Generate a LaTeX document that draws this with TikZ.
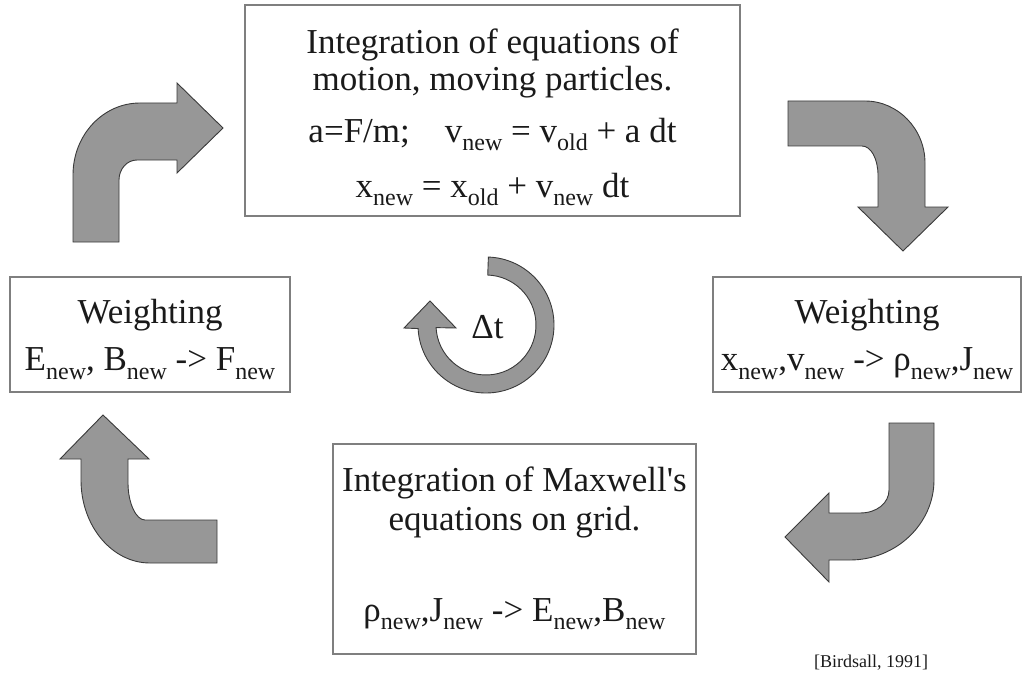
\documentclass[tikz,border=0pt]{standalone}
\usepackage{fontspec}
\setmainfont{Liberation Serif}
\usetikzlibrary{positioning,calc}
\definecolor{BoxLine}{HTML}{7F7F7F}
\definecolor{ArrowFill}{HTML}{979797}
\definecolor{ArrowLine}{HTML}{3A3A3A}
\definecolor{TextInk}{HTML}{1A1A1A}
\lineskiplimit=-100pt
\newcommand{\lo}[1]{\raisebox{-0.24em}{\fontsize{24}{24}\selectfont #1}}
\tikzset{
  % text boxes
  stagebox/.style={rectangle,draw=BoxLine,line width=1.5pt,fill=white,inner sep=0pt},
  % text inside the boxes
  stagetext/.style={align=center,text=TextInk,inner sep=0pt,anchor=north},
  % block arrows
  blockarrow/.style={fill=ArrowFill,draw=ArrowLine,line width=0.9pt,line join=miter},
  % citation
  cite/.style={font=\fontsize{18}{18}\selectfont,text=TextInk,anchor=base}
}

\begin{document}
\begin{tikzpicture}[x=1pt,y=1pt]
  \useasboundingbox (0,0) rectangle (1025,-674);

  % --- stages ---
  \node[stagebox,minimum width=495pt,minimum height=211pt] (motion)  at (492.5,-110.5) {};
  \node[stagebox,minimum width=280pt,minimum height=115pt] (wforce)  at (150,-334.5) {};
  \node[stagebox,minimum width=308pt,minimum height=115pt] (wcharge) at (867,-334.5) {};
  \node[stagebox,minimum width=363pt,minimum height=210pt] (maxwell) at (514.5,-549) {};

  \node[stagetext,font=\fontsize{35}{37}\selectfont] (motiontext) at ([yshift=-24pt]motion.north)
       {Integration of equations of\\ motion, moving particles.\\[15pt]
        a=F/m;\hspace{1em}v\lo{new} = v\lo{old} + a dt\\[18pt]
        x\lo{new} = x\lo{old} + v\lo{new} dt};
  \node[stagetext,font=\fontsize{35}{47}\selectfont] (wforcetext) at ([yshift=-23pt]wforce.north)
       {Weighting\\ E\lo{new}, B\lo{new} -> F\lo{new}};
  \node[stagetext,font=\fontsize{35}{47}\selectfont] (wchargetext) at ([yshift=-23pt]wcharge.north)
       {Weighting\\ x\lo{new},v\lo{new} -> ρ\lo{new},J\lo{new}};
  \node[stagetext,font=\fontsize{35}{39}\selectfont] (maxwelltext) at ([yshift=-23pt]maxwell.north)
       {Integration of Maxwell\textquotesingle s\\ equations on grid.\\[52pt]
        ρ\lo{new},J\lo{new} -> E\lo{new},B\lo{new}};

  % --- time step ---
  \coordinate (hub) at (486,-325);
  \draw[blockarrow] ($(hub)+(88:68)$) arc[start angle=88,end angle=-177,radius=68]
       -- (404,-328) -- (430,-301) -- (456,-328)
       -- ($(hub)+(-177:50)$) arc[start angle=-177,end angle=88,radius=50] -- cycle;
  \node[font=\fontsize{35}{35}\selectfont,text=TextInk,anchor=base] (dt) at (487.5,-338) {Δt};

  % --- cycle arrows ---
  \draw[blockarrow] (73,-242) -- (73,-175) .. controls (73,-135) and (103,-103) .. (140,-103)
       -- (177,-103) -- (177,-83) -- (223,-128) -- (177,-173) -- (177,-160) -- (137,-160)
       .. controls (127,-160) and (119,-169) .. (119,-180) -- (119,-242) -- cycle;
  \draw[blockarrow] (788,-101) -- (865,-101) .. controls (898,-101) and (925,-129) .. (925,-163)
       -- (925,-207) -- (948,-207) -- (903,-251) -- (858,-207) -- (878,-207) -- (878,-175)
       .. controls (878,-159) and (871,-146) .. (862,-146) -- (788,-146) -- cycle;
  \draw[blockarrow] (889,-423) -- (934,-423) -- (934,-480) .. controls (934,-524) and (896,-560) .. (850,-560)
       -- (829,-560) -- (829,-582) -- (785,-537) -- (829,-493) -- (829,-513) -- (860,-513)
       .. controls (877,-513) and (889,-503) .. (889,-490) -- cycle;
  \draw[blockarrow] (103,-415) -- (149,-459) -- (128,-459) -- (128,-483)
       .. controls (128,-503) and (136,-520) .. (145,-520) -- (217,-520) -- (217,-563) -- (150,-563)
       .. controls (112,-563) and (81,-526) .. (81,-480) -- (81,-459) -- (60,-459) -- cycle;

  \node[cite] (src) at (871,-667) {[Birdsall, 1991]};
\end{tikzpicture}
\end{document}
